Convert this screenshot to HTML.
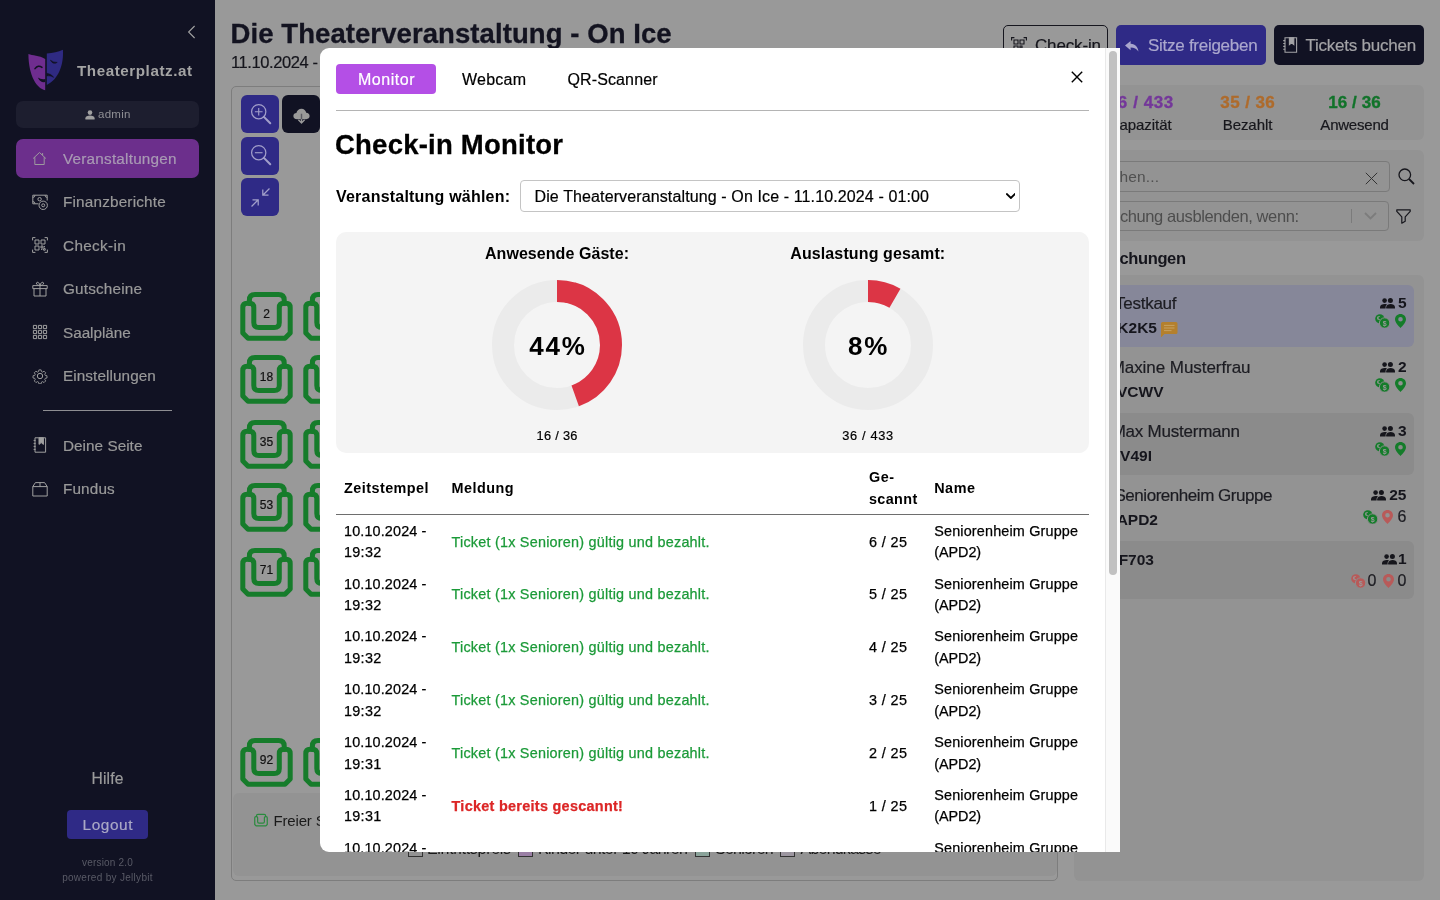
<!DOCTYPE html>
<html lang="de"><head>
<meta charset="utf-8">
<title>Theaterplatz.at</title>
<style>
*{box-sizing:border-box;margin:0;padding:0}
html,body{width:1440px;height:900px;overflow:hidden}
body{position:relative;background:#999999;font-family:"Liberation Sans",sans-serif;color:#111;font-size:16px}
.abs{position:absolute}
.nw{white-space:nowrap}
svg{display:block}
#sb,#main,#modal{will-change:transform}
/* ---------- sidebar ---------- */
#sb{position:absolute;left:0;top:0;width:215px;height:900px;background:#111223;color:#999}
#sb .nav{position:absolute;left:16px;width:183px;height:39px;border-radius:7px}
#sb .nav.act{background:#6c2f8c}
#sb .nav span{position:absolute;left:47px;top:-.4px;line-height:39px;font-size:15.3px;color:#999;white-space:nowrap;-webkit-text-stroke:.2px}
#sb .nav.act span{color:#a99ab4}
#sb .nav svg{position:absolute;left:16px;top:11px;width:16px;height:16px;stroke:#a0a0a0;fill:none;stroke-width:1}
/* ---------- main ---------- */
#main{position:absolute;left:0;top:0;width:1440px;height:900px}
.sn{left:240px;width:53px;text-align:center;font-size:12px;line-height:14px;color:#111;margin-top:1px;-webkit-text-stroke:.2px}
.st{top:92.9px;-webkit-text-stroke:.35px;font-size:17px;line-height:20px;font-weight:700;width:107px;text-align:center}
.sl{top:115.3px;-webkit-text-stroke:.2px;font-size:15px;line-height:20px;color:#17171c;width:107px;text-align:center}
.bi{left:1085px;width:329px;border-radius:6px}
.bn{font-size:17px;line-height:22px;color:#1c1c22;margin-top:1.6px;-webkit-text-stroke:.2px}
.bc{font-size:15.5px;line-height:20px;font-weight:700;color:#15151c;margin-top:1.4px}
.bq{font-size:15.5px;line-height:20px;font-weight:700;color:#15151c;margin-top:1.4px}
.br{font-size:16px;line-height:20px;color:#1c1c22;margin-top:1.2px;-webkit-text-stroke:.2px}
.btn{position:absolute;top:25px;height:40px;border-radius:5px;color:#a9a9b4;font-size:17px;line-height:40px;white-space:nowrap}
.box{position:absolute;background:#939393;border-radius:6px}
/* ---------- modal ---------- */
#modal{position:absolute;left:320px;top:48px;width:800px;height:804px;background:#fff;border-radius:9px 0 0 9px;overflow:hidden;color:#000}
.dt{top:194.5px;width:168px;text-align:center;font-size:16px;line-height:22px;font-weight:700;color:#000}
.dp{top:281.5px;width:168px;text-align:center;font-size:26px;line-height:32px;font-weight:700;color:#000}
.ds{top:379.2px;-webkit-text-stroke:.2px;width:168px;text-align:center;font-size:12.8px;line-height:18px;color:#000}
.th{font-size:14.4px;line-height:21.6px;font-weight:700;color:#000;margin-top:1.1px}
.td{font-size:14.4px;line-height:21.6px;color:#000;margin-top:1.1px;-webkit-text-stroke:.25px}
</style>
</head>
<body>

<!-- ================= SIDEBAR ================= -->
<div id="sb">
  <!-- collapse chevron -->
  <svg class="abs" style="left:186px;top:25px" width="12" height="14" viewBox="0 0 12 14"><path d="M8.6 1 L2.6 7 L8.6 13" fill="none" stroke="#a3a3a3" stroke-width="1.1"></path></svg>
  <!-- logo -->
  <svg class="abs" style="left:27px;top:49px" width="38" height="42" viewBox="0 0 38 42">
    <path d="M1.4 5.1 C5.5 6.8 12 6.2 18.2 10.1 L18.2 41.2 C10 40 1.5 27 1.4 5.1 Z" fill="#6f2d8f"></path>
    <path d="M19.8 4.5 C26 4.2 31 3 35.9 0.8 C37 16 31 31 19.8 35.9 Z" fill="#2f2a82"></path>
    <path d="M8 19.6 Q11.2 15.4 15 18.4" fill="none" stroke="#111223" stroke-width="1.5" stroke-linecap="round"></path>
    <path d="M10.8 28.4 Q13.4 34 18.2 33 L18.2 30 Q14 30.8 10.8 28.4 Z" fill="#111223"></path>
    <path d="M23.4 11.2 Q26 16 30.2 13.4 Q26.6 13.6 23.4 11.2 Z" fill="#111223" stroke="#111223" stroke-width=".6"></path>
    <path d="M19.8 24.2 Q24.4 24.6 26.8 28.4 Q23.6 26.4 19.8 27 Z" fill="#111223" stroke="#111223" stroke-width=".4"></path>
  </svg>
  <div class="abs nw" style="left: 77px; top: 59px; font-size: 15.2px; line-height: 22px; font-weight: 700; color: rgb(164, 164, 164); margin-top: 0.8px; letter-spacing: 0.56px;">Theaterplatz.at</div>
  <!-- admin chip -->
  <div class="abs" style="left:16px;top:101px;width:183px;height:27px;border-radius:7px;background:#1d1e2f"></div>
  <svg class="abs" style="left:85px;top:110px" width="10" height="10" viewBox="0 0 10 10"><circle cx="5" cy="2.6" r="2.3" fill="#a0a0a0"></circle><path d="M.4 9.6 V8.2 C.4 6.4 2.5 5.6 5 5.6 S9.6 6.4 9.6 8.2 V9.6 Z" fill="#a0a0a0"></path></svg>
  <div class="abs nw" style="left: 98px; top: 107px; font-size: 11.5px; line-height: 14px; color: rgb(143, 143, 148); letter-spacing: 0.29px;">admin</div>

  <!-- nav items -->
  <div class="nav act" style="top:139px">
    <svg viewBox="0 0 16 16" style="top:12px;left:16.3px;width:15px;height:15px"><path d="M1.2 8 L8 1.6 L14.8 8 M3 6.6 V14.4 H13 V6.6 M11.3 4.6 V2.2"></path></svg>
    <span style="letter-spacing: 0.21px;">Veranstaltungen</span></div>
  <div class="nav" style="top:182.5px">
    <svg viewBox="0 0 16 16"><path d="M6.5 9.8 H.8 V1.2 H15.2 V6.5 M.8 3.4 q2.2 0 2.2 -2.2 M15.2 3.4 q-2.2 0 -2.2 -2.2 M.8 7.6 q2.2 0 2.2 2.2"></path><circle cx="7.6" cy="5.2" r="1.7"></circle><circle cx="11.2" cy="11.3" r="4.2"></circle><circle cx="11.2" cy="11.3" r="1.5"></circle></svg>
    <span style="letter-spacing: 0.18px;">Finanzberichte</span></div>
  <div class="nav" style="top:226px">
    <svg viewBox="0 0 16 16"><path d="M.6 3.4 V.6 H3.4 M12.6 .6 H15.4 V3.4 M15.4 12.6 V15.4 H12.6 M3.4 15.4 H.6 V12.6 M3 3 H7 V7 H3 Z M9 3 H13 V7 H9 Z M3 9 H7 V13 H3 Z M9 9 H11 V11 H9 Z M11.6 11.6 H13.2 V13.2 H11.6 Z M9 12.4 H10.4 M12.4 9 V10.4"></path></svg>
    <span style="letter-spacing: 0.33px;">Check-in</span></div>
  <div class="nav" style="top:269.5px">
    <svg viewBox="0 0 16 16"><path d="M.8 4.6 H15.2 V7.6 H.8 Z M2 7.6 V15 H14 V7.6 M8 4.6 V15 M8 4.4 C6 4.4 4 3.6 4.4 2 C5 .4 7.4 1.4 8 4.4 C8.6 1.4 11 .4 11.6 2 C12 3.6 10 4.4 8 4.4"></path></svg>
    <span style="letter-spacing: 0.17px;">Gutscheine</span></div>
  <div class="nav" style="top:313px">
    <svg viewBox="0 0 16 16"><path d="M1.4 1.4h3.2v3.2h-3.2z M6.4 1.4h3.2v3.2h-3.2z M11.4 1.4h3.2v3.2h-3.2z M1.4 6.4h3.2v3.2h-3.2z M6.4 6.4h3.2v3.2h-3.2z M11.4 6.4h3.2v3.2h-3.2z M1.4 11.4h3.2v3.2h-3.2z M6.4 11.4h3.2v3.2h-3.2z M11.4 11.4h3.2v3.2h-3.2z"></path></svg>
    <span style="letter-spacing: -0.04px;">Saalpläne</span></div>
  <div class="nav" style="top:356.5px">
    <svg viewBox="0 0 16 16"><circle cx="8" cy="8" r="2.7"></circle><path d="M6.7 .9 h2.6 l.4 2 l1.3 .6 l1.7 -1.1 l1.9 1.9 l-1.1 1.7 l.6 1.3 l2 .4 v2.6 l-2 .4 l-.6 1.3 l1.1 1.7 l-1.9 1.9 l-1.7 -1.1 l-1.3 .6 l-.4 2 h-2.6 l-.4 -2 l-1.3 -.6 l-1.7 1.1 l-1.9 -1.9 l1.1 -1.7 l-.6 -1.3 l-2 -.4 v-2.6 l2 -.4 l.6 -1.3 l-1.1 -1.7 l1.9 -1.9 l1.7 1.1 l1.3 -.6 z" transform="translate(1.1 1.1) scale(.863)"></path></svg>
    <span style="letter-spacing: 0.08px;">Einstellungen</span></div>
  <div class="abs" style="left:43px;top:410px;width:129px;height:1px;background:#8e8e92"></div>
  <div class="nav" style="top:426px">
    <svg viewBox="0 0 16 16"><path d="M3 .8 H13.6 V15.2 H3 Z M1.6 3.4 H3.6 M1.6 6.4 H3.6 M1.6 9.4 H3.6 M1.6 12.4 H3.6"></path><path d="M7 .8 V7.4 L9.2 5.6 L11.4 7.4 V.8 Z" fill="#a0a0a0"></path></svg>
    <span style="letter-spacing: 0.03px;">Deine Seite</span></div>
  <div class="nav" style="top:469.5px">
    <svg viewBox="0 0 16 16"><path d="M.8 5.6 L3.4 1.6 H12.6 L15.2 5.6 V15 H.8 Z M.8 5.6 H15.2 M8 1.6 V5.6"></path></svg>
    <span style="letter-spacing: 0.13px;">Fundus</span></div>

  <div class="abs nw" style="left: 0px; width: 215px; top: 767.5px; text-align: center; font-size: 15.6px; line-height: 22px; color: rgb(155, 155, 155); -webkit-text-stroke: 0.2px; letter-spacing: 0.2px; padding-left: 0.2px;">Hilfe</div>
  <div class="abs nw" style="left: 67px; top: 810px; width: 81px; height: 29px; border-radius: 4px; background: rgb(47, 42, 134); text-align: center; font-size: 15.4px; line-height: 30.4px; color: rgb(170, 168, 198); -webkit-text-stroke: 0.2px; letter-spacing: 0.58px; padding-left: 0.58px;">Logout</div>
  <div class="abs nw" style="left:0;width:215px;top:856.5px;text-align:center;font-size:10px;line-height:12px;color:#595a66;letter-spacing:.2px">version 2.0</div>
  <div class="abs nw" style="left:0;width:215px;top:871.5px;text-align:center;font-size:10px;line-height:12px;color:#595a66;letter-spacing:.3px">powered by Jellybit</div>
</div>

<!-- ================= MAIN ================= -->
<div id="main">


<!-- title -->
<div class="abs nw" style="left: 230.5px; top: 16.8px; font-size: 27.5px; line-height: 34px; font-weight: 700; color: rgb(19, 19, 32); -webkit-text-stroke: 0.3px; letter-spacing: 0.08px;">Die Theaterveranstaltung - On Ice</div>
<div class="abs nw" style="left: 231px; top: 52.1px; font-size: 16.5px; line-height: 20px; color: rgb(21, 21, 28); -webkit-text-stroke: 0.2px; letter-spacing: -0.4px;">11.10.2024 - 01:00 Uhr</div>

<!-- seat-map container -->
<div class="abs" style="left:231px;top:85.5px;width:827px;height:795px;border:1px solid #7d7d7d;border-radius:5px"></div>
<!-- toolbar -->
<div class="abs" style="left:241px;top:95px;width:38px;height:38px;border-radius:6px;background:#2f2a86"></div>
<svg class="abs" style="left:249.5px;top:103px" width="22.5" height="22.5" viewBox="0 0 24 24" fill="none" stroke="#a29fca" stroke-width="1.3"><circle cx="9.3" cy="9.3" r="7.6"></circle><path d="M9.3 5.2 V13.4 M5.2 9.3 H13.4" stroke-width="1.2"></path><path d="M14.8 14.8 L21.6 21.6" stroke-width="2.2" stroke-linecap="round"></path></svg>
<div class="abs" style="left:282px;top:95px;width:38px;height:38px;border-radius:6px;background:#111223"></div>
<svg class="abs" style="left:292.5px;top:107.5px" width="17" height="17" viewBox="0 0 18 18"><path d="M4.4 11.8 C1.6 11.8 .4 10.2 .4 8.4 C.4 6.6 1.8 5.2 3.6 5.2 C4.2 2.6 6.2 .8 9 .8 C11.6 .8 13.6 2.6 14 5 C16.2 5.2 17.6 6.6 17.6 8.6 C17.6 10.4 16.2 11.8 14 11.8 Z" fill="#999"></path><path d="M9 6 V15.4 M5.6 12.4 L9 15.8 L12.4 12.4" fill="none" stroke="#5a5a62" stroke-width="1.5"></path><path d="M9 12 V15.4 M5.8 12.6 L9 15.8 L12.2 12.6" fill="none" stroke="#999" stroke-width="1.3"></path></svg>
<div class="abs" style="left:241px;top:136.5px;width:38px;height:38px;border-radius:6px;background:#2f2a86"></div>
<svg class="abs" style="left:249.5px;top:144.3px" width="22.5" height="22.5" viewBox="0 0 24 24" fill="none" stroke="#a29fca" stroke-width="1.3"><circle cx="9.3" cy="9.3" r="7.6"></circle><path d="M5.2 9.3 H13.4" stroke-width="1.2"></path><path d="M14.8 14.8 L21.6 21.6" stroke-width="2.2" stroke-linecap="round"></path></svg>
<div class="abs" style="left:241px;top:178px;width:38px;height:38px;border-radius:6px;background:#2f2a86"></div>
<svg class="abs" style="left:249.5px;top:186.5px" width="21" height="21" viewBox="0 0 22 22" fill="none" stroke="#a29fca" stroke-width="1.3"><path d="M20.4 1.6 L13.4 8.6 M13.4 2.6 V8.6 H19.4 M1.6 20.4 L8.6 13.4 M2.6 13.4 H8.6 V19.4"></path></svg>

<!-- seats -->
<svg class="abs" style="left:240px;top:291px" width="53" height="50" viewBox="0 0 53 50">
      <g fill="none" stroke="#167c2b" stroke-width="5" stroke-linejoin="round" stroke-linecap="round">
        <path d="M9.4 12.6 V9 Q9.4 3.5 15 3.5 H38.5 Q44.2 3.5 44.2 9 V12.6"></path>
        <path d="M2.8 42 V16.5 Q2.8 12.2 7 12.2 H9.6 Q13.8 12.2 13.8 16.5 V31.5 Q13.8 36.6 19 36.6 H34.2 Q39.3 36.6 39.3 31.5 V16.5 Q39.3 12.2 43.5 12.2 H46 Q50.2 12.2 50.2 16.5 V42 L45 47.3 H8 Z"></path>
      </g>
    </svg>
<svg class="abs" style="left:303px;top:291px" width="53" height="50" viewBox="0 0 53 50">
      <g fill="none" stroke="#167c2b" stroke-width="5" stroke-linejoin="round" stroke-linecap="round">
        <path d="M9.4 12.6 V9 Q9.4 3.5 15 3.5 H38.5 Q44.2 3.5 44.2 9 V12.6"></path>
        <path d="M2.8 42 V16.5 Q2.8 12.2 7 12.2 H9.6 Q13.8 12.2 13.8 16.5 V31.5 Q13.8 36.6 19 36.6 H34.2 Q39.3 36.6 39.3 31.5 V16.5 Q39.3 12.2 43.5 12.2 H46 Q50.2 12.2 50.2 16.5 V42 L45 47.3 H8 Z"></path>
      </g>
    </svg>
<svg class="abs" style="left:240px;top:354px" width="53" height="50" viewBox="0 0 53 50">
      <g fill="none" stroke="#167c2b" stroke-width="5" stroke-linejoin="round" stroke-linecap="round">
        <path d="M9.4 12.6 V9 Q9.4 3.5 15 3.5 H38.5 Q44.2 3.5 44.2 9 V12.6"></path>
        <path d="M2.8 42 V16.5 Q2.8 12.2 7 12.2 H9.6 Q13.8 12.2 13.8 16.5 V31.5 Q13.8 36.6 19 36.6 H34.2 Q39.3 36.6 39.3 31.5 V16.5 Q39.3 12.2 43.5 12.2 H46 Q50.2 12.2 50.2 16.5 V42 L45 47.3 H8 Z"></path>
      </g>
    </svg>
<svg class="abs" style="left:303px;top:354px" width="53" height="50" viewBox="0 0 53 50">
      <g fill="none" stroke="#167c2b" stroke-width="5" stroke-linejoin="round" stroke-linecap="round">
        <path d="M9.4 12.6 V9 Q9.4 3.5 15 3.5 H38.5 Q44.2 3.5 44.2 9 V12.6"></path>
        <path d="M2.8 42 V16.5 Q2.8 12.2 7 12.2 H9.6 Q13.8 12.2 13.8 16.5 V31.5 Q13.8 36.6 19 36.6 H34.2 Q39.3 36.6 39.3 31.5 V16.5 Q39.3 12.2 43.5 12.2 H46 Q50.2 12.2 50.2 16.5 V42 L45 47.3 H8 Z"></path>
      </g>
    </svg>
<svg class="abs" style="left:240px;top:418.5px" width="53" height="50" viewBox="0 0 53 50">
      <g fill="none" stroke="#167c2b" stroke-width="5" stroke-linejoin="round" stroke-linecap="round">
        <path d="M9.4 12.6 V9 Q9.4 3.5 15 3.5 H38.5 Q44.2 3.5 44.2 9 V12.6"></path>
        <path d="M2.8 42 V16.5 Q2.8 12.2 7 12.2 H9.6 Q13.8 12.2 13.8 16.5 V31.5 Q13.8 36.6 19 36.6 H34.2 Q39.3 36.6 39.3 31.5 V16.5 Q39.3 12.2 43.5 12.2 H46 Q50.2 12.2 50.2 16.5 V42 L45 47.3 H8 Z"></path>
      </g>
    </svg>
<svg class="abs" style="left:303px;top:418.5px" width="53" height="50" viewBox="0 0 53 50">
      <g fill="none" stroke="#167c2b" stroke-width="5" stroke-linejoin="round" stroke-linecap="round">
        <path d="M9.4 12.6 V9 Q9.4 3.5 15 3.5 H38.5 Q44.2 3.5 44.2 9 V12.6"></path>
        <path d="M2.8 42 V16.5 Q2.8 12.2 7 12.2 H9.6 Q13.8 12.2 13.8 16.5 V31.5 Q13.8 36.6 19 36.6 H34.2 Q39.3 36.6 39.3 31.5 V16.5 Q39.3 12.2 43.5 12.2 H46 Q50.2 12.2 50.2 16.5 V42 L45 47.3 H8 Z"></path>
      </g>
    </svg>
<svg class="abs" style="left:240px;top:482px" width="53" height="50" viewBox="0 0 53 50">
      <g fill="none" stroke="#167c2b" stroke-width="5" stroke-linejoin="round" stroke-linecap="round">
        <path d="M9.4 12.6 V9 Q9.4 3.5 15 3.5 H38.5 Q44.2 3.5 44.2 9 V12.6"></path>
        <path d="M2.8 42 V16.5 Q2.8 12.2 7 12.2 H9.6 Q13.8 12.2 13.8 16.5 V31.5 Q13.8 36.6 19 36.6 H34.2 Q39.3 36.6 39.3 31.5 V16.5 Q39.3 12.2 43.5 12.2 H46 Q50.2 12.2 50.2 16.5 V42 L45 47.3 H8 Z"></path>
      </g>
    </svg>
<svg class="abs" style="left:303px;top:482px" width="53" height="50" viewBox="0 0 53 50">
      <g fill="none" stroke="#167c2b" stroke-width="5" stroke-linejoin="round" stroke-linecap="round">
        <path d="M9.4 12.6 V9 Q9.4 3.5 15 3.5 H38.5 Q44.2 3.5 44.2 9 V12.6"></path>
        <path d="M2.8 42 V16.5 Q2.8 12.2 7 12.2 H9.6 Q13.8 12.2 13.8 16.5 V31.5 Q13.8 36.6 19 36.6 H34.2 Q39.3 36.6 39.3 31.5 V16.5 Q39.3 12.2 43.5 12.2 H46 Q50.2 12.2 50.2 16.5 V42 L45 47.3 H8 Z"></path>
      </g>
    </svg>
<svg class="abs" style="left:240px;top:546.5px" width="53" height="50" viewBox="0 0 53 50">
      <g fill="none" stroke="#167c2b" stroke-width="5" stroke-linejoin="round" stroke-linecap="round">
        <path d="M9.4 12.6 V9 Q9.4 3.5 15 3.5 H38.5 Q44.2 3.5 44.2 9 V12.6"></path>
        <path d="M2.8 42 V16.5 Q2.8 12.2 7 12.2 H9.6 Q13.8 12.2 13.8 16.5 V31.5 Q13.8 36.6 19 36.6 H34.2 Q39.3 36.6 39.3 31.5 V16.5 Q39.3 12.2 43.5 12.2 H46 Q50.2 12.2 50.2 16.5 V42 L45 47.3 H8 Z"></path>
      </g>
    </svg>
<svg class="abs" style="left:303px;top:546.5px" width="53" height="50" viewBox="0 0 53 50">
      <g fill="none" stroke="#167c2b" stroke-width="5" stroke-linejoin="round" stroke-linecap="round">
        <path d="M9.4 12.6 V9 Q9.4 3.5 15 3.5 H38.5 Q44.2 3.5 44.2 9 V12.6"></path>
        <path d="M2.8 42 V16.5 Q2.8 12.2 7 12.2 H9.6 Q13.8 12.2 13.8 16.5 V31.5 Q13.8 36.6 19 36.6 H34.2 Q39.3 36.6 39.3 31.5 V16.5 Q39.3 12.2 43.5 12.2 H46 Q50.2 12.2 50.2 16.5 V42 L45 47.3 H8 Z"></path>
      </g>
    </svg>
<svg class="abs" style="left:240px;top:737px" width="53" height="50" viewBox="0 0 53 50">
      <g fill="none" stroke="#167c2b" stroke-width="5" stroke-linejoin="round" stroke-linecap="round">
        <path d="M9.4 12.6 V9 Q9.4 3.5 15 3.5 H38.5 Q44.2 3.5 44.2 9 V12.6"></path>
        <path d="M2.8 42 V16.5 Q2.8 12.2 7 12.2 H9.6 Q13.8 12.2 13.8 16.5 V31.5 Q13.8 36.6 19 36.6 H34.2 Q39.3 36.6 39.3 31.5 V16.5 Q39.3 12.2 43.5 12.2 H46 Q50.2 12.2 50.2 16.5 V42 L45 47.3 H8 Z"></path>
      </g>
    </svg>
<svg class="abs" style="left:303px;top:737px" width="53" height="50" viewBox="0 0 53 50">
      <g fill="none" stroke="#167c2b" stroke-width="5" stroke-linejoin="round" stroke-linecap="round">
        <path d="M9.4 12.6 V9 Q9.4 3.5 15 3.5 H38.5 Q44.2 3.5 44.2 9 V12.6"></path>
        <path d="M2.8 42 V16.5 Q2.8 12.2 7 12.2 H9.6 Q13.8 12.2 13.8 16.5 V31.5 Q13.8 36.6 19 36.6 H34.2 Q39.3 36.6 39.3 31.5 V16.5 Q39.3 12.2 43.5 12.2 H46 Q50.2 12.2 50.2 16.5 V42 L45 47.3 H8 Z"></path>
      </g>
    </svg>
<div class="abs nw sn" style="top:306px">2</div>
<div class="abs nw sn" style="top:369px">18</div>
<div class="abs nw sn" style="top:433.5px">35</div>
<div class="abs nw sn" style="top:497px">53</div>
<div class="abs nw sn" style="top:561.5px">71</div>
<div class="abs nw sn" style="top:752px">92</div>

<!-- legend -->
<div class="box" style="left:232.5px;top:793px;width:824px;height:83px;background:#939393"></div>
<svg class="abs" style="left:254px;top:813px" width="14" height="14" viewBox="0 0 53 50"><g fill="none" stroke="#2a8a3e" stroke-width="4.5" stroke-linejoin="round"><path d="M9.4 12.6 V9 Q9.4 3.5 15 3.5 H38.5 Q44.2 3.5 44.2 9 V12.6"></path><path d="M2.8 42 V16.5 Q2.8 12.2 7 12.2 H9.6 Q13.8 12.2 13.8 16.5 V31.5 Q13.8 36.6 19 36.6 H34.2 Q39.3 36.6 39.3 31.5 V16.5 Q39.3 12.2 43.5 12.2 H46 Q50.2 12.2 50.2 16.5 V42 L45 47.3 H8 Z"></path></g></svg>
<div class="abs nw" style="left: 273.5px; top: 811px; font-size: 15px; line-height: 20px; color: rgb(26, 26, 26); letter-spacing: -0.17px;">Freier Sitzplatz</div>
<!-- legend row 2 (peeks out under the modal) -->
<div class="abs" style="left:408px;top:842px;width:15px;height:15px;border:1px solid #333"></div>
<div class="abs nw" style="left: 427px; top: 839px; font-size: 16px; line-height: 20px; color: rgb(26, 26, 26); letter-spacing: -0.31px;">Eintrittspreis</div>
<div class="abs" style="left:518px;top:842px;width:15px;height:15px;border:1px solid #333;background:#9a7fa5"></div>
<div class="abs nw" style="left: 538px; top: 839px; font-size: 16px; line-height: 20px; color: rgb(26, 26, 26); letter-spacing: -0.61px;">Kinder unter 10 Jahren</div>
<div class="abs" style="left:695px;top:842px;width:15px;height:15px;border:1px solid #333;background:#8aa39a"></div>
<div class="abs nw" style="left: 715px; top: 839px; font-size: 16px; line-height: 20px; color: rgb(26, 26, 26); letter-spacing: -0.76px;">Senioren</div>
<div class="abs" style="left:780px;top:842px;width:15px;height:15px;border:1px solid #333;background:#9c96a0"></div>
<div class="abs nw" style="left: 800.5px; top: 839px; font-size: 16px; line-height: 20px; color: rgb(26, 26, 26); letter-spacing: -0.78px;">Abendkasse</div>

<!-- header buttons -->
<div class="abs" style="left:1003px;top:25px;width:105px;height:40px;border:1px solid #16161e;border-radius:5px"></div>
<svg class="abs" style="left:1011px;top:37.3px" width="16" height="16" viewBox="0 0 16 16" fill="none" stroke="#15151c" stroke-width="1.1"><path d="M.6 3.4 V.6 H3.4 M12.6 .6 H15.4 V3.4 M15.4 12.6 V15.4 H12.6 M3.4 15.4 H.6 V12.6 M3 3 H7 V7 H3 Z M9 3 H13 V7 H9 Z M3 9 H7 V13 H3 Z M9 9 H11 V11 H9 Z M11.6 11.6 H13.2 V13.2 H11.6 Z"></path></svg>
<div class="abs nw" style="left: 1035px; top: 26px; font-size: 17px; line-height: 40px; color: rgb(21, 21, 28); -webkit-text-stroke: 0.2px; letter-spacing: -0.16px;">Check-in</div>

<div class="btn" style="left:1116px;width:150px;background:#2f2a86"></div>
<svg class="abs" style="left:1124.5px;top:40.5px" width="14" height="11" viewBox="0 0 14 11"><path d="M5.6 0 L0 4.6 L5.6 9.2 V6.4 C9.2 6.4 11.6 7.6 13.4 10.6 C13.2 6.6 10.6 3.2 5.6 2.8 Z" fill="#a9a6cd"></path></svg>
<div class="abs nw" style="left: 1148px; top: 26px; font-size: 17px; line-height: 40px; color: rgb(170, 167, 205); -webkit-text-stroke: 0.2px; letter-spacing: -0.27px;">Sitze freigeben</div>

<div class="btn" style="left:1274px;width:150px;background:#111223"></div>
<svg class="abs" style="left:1281.5px;top:37px" width="16" height="16" viewBox="0 0 16 16" fill="none" stroke="#a3a3a6" stroke-width="1.1"><path d="M3 .8 H14.6 V15.2 H3 Z M1.2 3.6 H3.6 M1.2 6.5 H3.6 M1.2 9.4 H3.6 M1.2 12.3 H3.6"></path><path d="M7.4 .8 V7.6 L9.6 5.8 L11.8 7.6 V.8 Z" fill="#a3a3a6"></path></svg>
<div class="abs nw" style="left: 1305.5px; top: 26px; font-size: 17px; line-height: 40px; color: rgb(163, 163, 166); -webkit-text-stroke: 0.2px; letter-spacing: -0.24px;">Tickets buchen</div>

<!-- stats -->
<div class="box" style="left:1074px;top:85px;width:350px;height:54.5px"></div>
<div class="abs nw st" style="left: 1087px; color: rgb(116, 55, 154); letter-spacing: 0.54px; padding-left: 0.54px;">36 / 433</div>
<div class="abs nw sl" style="left: 1087px; letter-spacing: -0.05px;">Kapazität</div>
<div class="abs nw st" style="left: 1194px; color: rgb(174, 107, 44); letter-spacing: 0.4px; padding-left: 0.4px;">35 / 36</div>
<div class="abs nw sl" style="left: 1194px; letter-spacing: -0.07px;">Bezahlt</div>
<div class="abs nw st" style="left: 1301px; color: rgb(17, 115, 42); letter-spacing: 0.08px; padding-left: 0.08px;">16 / 36</div>
<div class="abs nw sl" style="left: 1301px; letter-spacing: -0.22px;">Anwesend</div>

<!-- search box -->
<div class="box" style="left:1074px;top:150px;width:350px;height:91px"></div>
<div class="abs" style="left:1085px;top:160.5px;width:305px;height:31px;border:1px solid #7a7a7a;border-radius:4px"></div>
<div class="abs nw" style="right: 281px; top: 166px; font-size: 15.5px; line-height: 22px; color: rgb(80, 80, 80); letter-spacing: 0.16px; margin-right: -0.16px;">Suchen...</div>
<svg class="abs" style="left:1364.5px;top:171.5px" width="13" height="13" viewBox="0 0 13 13"><path d="M.8 .8 L12.2 12.2 M12.2 .8 L.8 12.2" stroke="#333" stroke-width="1" fill="none"></path></svg>
<svg class="abs" style="left:1397.5px;top:167.5px" width="17" height="17" viewBox="0 0 17 17" fill="none" stroke="#16161c" stroke-width="1.3"><circle cx="6.8" cy="6.8" r="5.8"></circle><path d="M11 11 L16 16" stroke-width="1.8"></path></svg>
<div class="abs" style="left:1085px;top:200.5px;width:304px;height:30px;border:1px solid #7a7a7a;border-radius:4px"></div>
<div class="abs nw" style="right: 141px; top: 204.5px; font-size: 16.5px; line-height: 22px; color: rgb(77, 77, 77); letter-spacing: -0.41px; margin-right: 0.41px;">Buchung ausblenden, wenn:</div>
<div class="abs" style="left:1351px;top:208.5px;width:1px;height:14px;background:#7b7b7b"></div>
<svg class="abs" style="left:1363.5px;top:212px" width="13" height="8" viewBox="0 0 13 8"><path d="M1 1 L6.5 6.4 L12 1" fill="none" stroke="#7c7c7c" stroke-width="1.8"></path></svg>
<svg class="abs" style="left:1395.5px;top:208.5px" width="15" height="15" viewBox="0 0 15 15"><path d="M.8 .8 H14.2 V2.4 L9.2 7.8 V12.2 L5.8 14.2 V7.8 L.8 2.4 Z" fill="none" stroke="#16161c" stroke-width="1.2" stroke-linejoin="round"></path></svg>

<!-- bookings -->
<div class="abs nw" style="right: 254px; top: 247px; font-size: 16.5px; line-height: 22px; font-weight: 700; color: rgb(21, 21, 28); letter-spacing: -0.38px; margin-right: 0.38px;">Buchungen</div>
<div class="box" style="left:1074px;top:275px;width:350px;height:606px"></div>

<div class="abs bi" style="top:284.5px;height:62px;background:#868799"></div>
<div class="abs nw bn" style="right: 263.5px; top: 291.5px; letter-spacing: -0.27px; margin-right: 0.27px;">Testkauf</div>
<div class="abs nw bc" style="right:283px;top:317px">K2K5</div>
<svg class="abs" style="left:1161px;top:321.5px" width="16.5" height="15.5" viewBox="0 0 16.5 15.5"><path d="M1.6 0 H14.9 Q16.5 0 16.5 1.6 V10.4 Q16.5 12 14.9 12 H3.4 L0 15.5 V1.6 Q0 0 1.6 0 Z" fill="#b4802d"></path><path d="M3 3.4 H13.5 M3 6 H13.5 M3 8.6 H10.5" stroke="#c7a162" stroke-width="1" fill="none"></path></svg>
<svg class="abs" style="left:1379.5px;top:298px" width="15" height="11" fill="#16161c" viewBox="0 0 15 11">
      <circle cx="4.6" cy="2.6" r="2.3"></circle><circle cx="10.4" cy="2.5" r="2.5"></circle>
      <path d="M0 10.6 V9.2 C0 7 2.4 6 4.8 6 C5.6 6 6.3 6.1 7 6.4 C5.9 7.2 5.6 8.2 5.6 9.3 V10.6 Z"></path>
      <path d="M6.2 10.6 V9.2 C6.2 6.9 8.6 6 10.6 6 S15 6.9 15 9.2 V10.6 Z"></path>
    </svg>
<div class="abs nw bq" style="right:33.5px;top:292px">5</div>
<svg class="abs" style="left:1374.5px;top:314px" width="15" height="14" fill="#147c2a" viewBox="0 0 15 14">
      <circle cx="4.8" cy="4.8" r="4.6"></circle>
      <circle cx="9.6" cy="9" r="5.2" stroke="#8d8d8d" stroke-width="1"></circle>
      <text x="9.6" y="11.6" font-family="Liberation Sans" font-size="7" font-weight="700" text-anchor="middle" fill="#999" stroke="none">$</text>
      <text x="3.6" y="6.2" font-family="Liberation Sans" font-size="5.5" font-weight="700" text-anchor="middle" fill="#999" stroke="none">€</text>
    </svg>
<svg class="abs" style="left:1394.5px;top:314px" width="11" height="14" fill="#147c2a" viewBox="0 0 11 14">
      <path fill-rule="evenodd" d="M5.5 0 C2.4 0 0 2.4 0 5.3 C0 9 5.5 14 5.5 14 S11 9 11 5.3 C11 2.4 8.6 0 5.5 0 Z M5.5 3 A2.3 2.3 0 1 0 5.5 7.6 A2.3 2.3 0 1 0 5.5 3 Z"></path>
    </svg>

<div class="abs nw bn" style="right: 189.5px; top: 355.5px; letter-spacing: -0.06px; margin-right: 0.06px;">Maxine Musterfrau</div>
<div class="abs nw bc" style="right:276.5px;top:381px">VCWV</div>
<svg class="abs" style="left:1379.5px;top:362px" width="15" height="11" fill="#16161c" viewBox="0 0 15 11">
      <circle cx="4.6" cy="2.6" r="2.3"></circle><circle cx="10.4" cy="2.5" r="2.5"></circle>
      <path d="M0 10.6 V9.2 C0 7 2.4 6 4.8 6 C5.6 6 6.3 6.1 7 6.4 C5.9 7.2 5.6 8.2 5.6 9.3 V10.6 Z"></path>
      <path d="M6.2 10.6 V9.2 C6.2 6.9 8.6 6 10.6 6 S15 6.9 15 9.2 V10.6 Z"></path>
    </svg>
<div class="abs nw bq" style="right:33.5px;top:356px">2</div>
<svg class="abs" style="left:1374.5px;top:378px" width="15" height="14" fill="#147c2a" viewBox="0 0 15 14">
      <circle cx="4.8" cy="4.8" r="4.6"></circle>
      <circle cx="9.6" cy="9" r="5.2" stroke="#8d8d8d" stroke-width="1"></circle>
      <text x="9.6" y="11.6" font-family="Liberation Sans" font-size="7" font-weight="700" text-anchor="middle" fill="#999" stroke="none">$</text>
      <text x="3.6" y="6.2" font-family="Liberation Sans" font-size="5.5" font-weight="700" text-anchor="middle" fill="#999" stroke="none">€</text>
    </svg>
<svg class="abs" style="left:1394.5px;top:378px" width="11" height="14" fill="#147c2a" viewBox="0 0 11 14">
      <path fill-rule="evenodd" d="M5.5 0 C2.4 0 0 2.4 0 5.3 C0 9 5.5 14 5.5 14 S11 9 11 5.3 C11 2.4 8.6 0 5.5 0 Z M5.5 3 A2.3 2.3 0 1 0 5.5 7.6 A2.3 2.3 0 1 0 5.5 3 Z"></path>
    </svg>

<div class="abs bi" style="top:412.5px;height:62px;background:#8b8b8b"></div>
<div class="abs nw bn" style="right: 200px; top: 419.5px; letter-spacing: -0.23px; margin-right: 0.23px;">Max Mustermann</div>
<div class="abs nw bc" style="right:288px;top:445px">V49I</div>
<svg class="abs" style="left:1379.5px;top:426px" width="15" height="11" fill="#16161c" viewBox="0 0 15 11">
      <circle cx="4.6" cy="2.6" r="2.3"></circle><circle cx="10.4" cy="2.5" r="2.5"></circle>
      <path d="M0 10.6 V9.2 C0 7 2.4 6 4.8 6 C5.6 6 6.3 6.1 7 6.4 C5.9 7.2 5.6 8.2 5.6 9.3 V10.6 Z"></path>
      <path d="M6.2 10.6 V9.2 C6.2 6.9 8.6 6 10.6 6 S15 6.9 15 9.2 V10.6 Z"></path>
    </svg>
<div class="abs nw bq" style="right:33.5px;top:420px">3</div>
<svg class="abs" style="left:1374.5px;top:442px" width="15" height="14" fill="#147c2a" viewBox="0 0 15 14">
      <circle cx="4.8" cy="4.8" r="4.6"></circle>
      <circle cx="9.6" cy="9" r="5.2" stroke="#8d8d8d" stroke-width="1"></circle>
      <text x="9.6" y="11.6" font-family="Liberation Sans" font-size="7" font-weight="700" text-anchor="middle" fill="#999" stroke="none">$</text>
      <text x="3.6" y="6.2" font-family="Liberation Sans" font-size="5.5" font-weight="700" text-anchor="middle" fill="#999" stroke="none">€</text>
    </svg>
<svg class="abs" style="left:1394.5px;top:442px" width="11" height="14" fill="#147c2a" viewBox="0 0 11 14">
      <path fill-rule="evenodd" d="M5.5 0 C2.4 0 0 2.4 0 5.3 C0 9 5.5 14 5.5 14 S11 9 11 5.3 C11 2.4 8.6 0 5.5 0 Z M5.5 3 A2.3 2.3 0 1 0 5.5 7.6 A2.3 2.3 0 1 0 5.5 3 Z"></path>
    </svg>

<div class="abs nw bn" style="right: 167.5px; top: 483.5px; letter-spacing: -0.46px; margin-right: 0.46px;">Seniorenheim Gruppe</div>
<div class="abs nw bc" style="right:282px;top:509px">APD2</div>
<svg class="abs" style="left:1371px;top:490px" width="15" height="11" fill="#16161c" viewBox="0 0 15 11">
      <circle cx="4.6" cy="2.6" r="2.3"></circle><circle cx="10.4" cy="2.5" r="2.5"></circle>
      <path d="M0 10.6 V9.2 C0 7 2.4 6 4.8 6 C5.6 6 6.3 6.1 7 6.4 C5.9 7.2 5.6 8.2 5.6 9.3 V10.6 Z"></path>
      <path d="M6.2 10.6 V9.2 C6.2 6.9 8.6 6 10.6 6 S15 6.9 15 9.2 V10.6 Z"></path>
    </svg>
<div class="abs nw bq" style="right:33.5px;top:484px">25</div>
<svg class="abs" style="left:1362.5px;top:510px" width="15" height="14" fill="#147c2a" viewBox="0 0 15 14">
      <circle cx="4.8" cy="4.8" r="4.6"></circle>
      <circle cx="9.6" cy="9" r="5.2" stroke="#8d8d8d" stroke-width="1"></circle>
      <text x="9.6" y="11.6" font-family="Liberation Sans" font-size="7" font-weight="700" text-anchor="middle" fill="#999" stroke="none">$</text>
      <text x="3.6" y="6.2" font-family="Liberation Sans" font-size="5.5" font-weight="700" text-anchor="middle" fill="#999" stroke="none">€</text>
    </svg>
<svg class="abs" style="left:1382px;top:510px" width="11" height="14" fill="#b85a59" viewBox="0 0 11 14">
      <path fill-rule="evenodd" d="M5.5 0 C2.4 0 0 2.4 0 5.3 C0 9 5.5 14 5.5 14 S11 9 11 5.3 C11 2.4 8.6 0 5.5 0 Z M5.5 3 A2.3 2.3 0 1 0 5.5 7.6 A2.3 2.3 0 1 0 5.5 3 Z"></path>
    </svg>
<div class="abs nw br" style="right:33.5px;top:506px">6</div>

<div class="abs bi" style="top:540.5px;height:58px;background:#8b8b8b"></div>
<div class="abs nw bc" style="right:286px;top:549px">F703</div>
<svg class="abs" style="left:1382px;top:554px" width="15" height="11" fill="#16161c" viewBox="0 0 15 11">
      <circle cx="4.6" cy="2.6" r="2.3"></circle><circle cx="10.4" cy="2.5" r="2.5"></circle>
      <path d="M0 10.6 V9.2 C0 7 2.4 6 4.8 6 C5.6 6 6.3 6.1 7 6.4 C5.9 7.2 5.6 8.2 5.6 9.3 V10.6 Z"></path>
      <path d="M6.2 10.6 V9.2 C6.2 6.9 8.6 6 10.6 6 S15 6.9 15 9.2 V10.6 Z"></path>
    </svg>
<div class="abs nw bq" style="right:33.5px;top:548px">1</div>
<svg class="abs" style="left:1351px;top:574px" width="15" height="14" fill="#b85a59" viewBox="0 0 15 14">
      <circle cx="4.8" cy="4.8" r="4.6"></circle>
      <circle cx="9.6" cy="9" r="5.2" stroke="#8d8d8d" stroke-width="1"></circle>
      <text x="9.6" y="11.6" font-family="Liberation Sans" font-size="7" font-weight="700" text-anchor="middle" fill="#999" stroke="none">$</text>
      <text x="3.6" y="6.2" font-family="Liberation Sans" font-size="5.5" font-weight="700" text-anchor="middle" fill="#999" stroke="none">€</text>
    </svg>
<div class="abs nw br" style="right:63.5px;top:570px">0</div>
<svg class="abs" style="left:1382.5px;top:574px" width="11" height="14" fill="#b85a59" viewBox="0 0 11 14">
      <path fill-rule="evenodd" d="M5.5 0 C2.4 0 0 2.4 0 5.3 C0 9 5.5 14 5.5 14 S11 9 11 5.3 C11 2.4 8.6 0 5.5 0 Z M5.5 3 A2.3 2.3 0 1 0 5.5 7.6 A2.3 2.3 0 1 0 5.5 3 Z"></path>
    </svg>
<div class="abs nw br" style="right:33.5px;top:570px">0</div>

</div>

<!-- ================= MODAL ================= -->
<div id="modal">
<!-- tabs -->
<div class="abs" style="left:16px;top:16px;width:100px;height:30px;border-radius:4px;background:#b44fe6"></div>
<div class="abs nw" style="left: 38px; top: 17.2px; font-size: 16px; line-height: 30px; color: rgb(255, 255, 255); -webkit-text-stroke: 0.2px; letter-spacing: 0.54px;">Monitor</div>
<div class="abs nw" style="left: 142px; top: 17.2px; font-size: 16px; line-height: 30px; color: rgb(0, 0, 0); -webkit-text-stroke: 0.2px; letter-spacing: 0.23px;">Webcam</div>
<div class="abs nw" style="left: 247.5px; top: 17.2px; font-size: 16px; line-height: 30px; color: rgb(0, 0, 0); -webkit-text-stroke: 0.2px; letter-spacing: 0.12px;">QR-Scanner</div>
<svg class="abs" style="left:750.5px;top:23.2px" width="12" height="12" viewBox="0 0 12 12"><path d="M.8 .8 L11.2 11.2 M11.2 .8 L.8 11.2" stroke="#000" stroke-width="1.4" fill="none"></path></svg>
<div class="abs" style="left:16px;top:62px;width:753px;height:1px;background:#b4b4b4"></div>

<div class="abs nw" style="left: 15px; top: 77.8px; font-size: 27.5px; line-height: 38px; font-weight: 700; color: rgb(0, 0, 0); -webkit-text-stroke: 0.3px; letter-spacing: 0.23px;">Check-in Monitor</div>

<div class="abs nw" style="left: 16px; top: 137.7px; font-size: 16px; line-height: 22px; font-weight: 700; color: rgb(0, 0, 0); letter-spacing: 0.21px;">Veranstaltung wählen:</div>
<div class="abs" style="left:200px;top:132.2px;width:499.8px;height:31.6px;border:1px solid #c4c4c4;border-radius:4px;background:#fff"></div>
<div class="abs nw" style="left: 214.5px; top: 137.7px; font-size: 16px; line-height: 22px; color: rgb(0, 0, 0); -webkit-text-stroke: 0.2px; letter-spacing: 0.12px;">Die Theaterveranstaltung - On Ice - 11.10.2024 - 01:00</div>
<svg class="abs" style="left:685.6px;top:144.8px" width="9.8" height="6.6" viewBox="0 0 10.4 7"><path d="M1 1.2 L5.2 5.3 L9.4 1.2" fill="none" stroke="#000" stroke-width="2" stroke-linecap="square" stroke-linejoin="miter"></path></svg>

<!-- stat panel -->
<div class="abs" style="left:16px;top:184px;width:753px;height:220.5px;border-radius:10px;background:#f4f4f4"></div>
<div class="abs nw dt" style="left: 153px; letter-spacing: 0.06px; padding-left: 0.06px;">Anwesende Gäste:</div>
<div class="abs nw dt" style="left: 463.7px; letter-spacing: 0.12px; padding-left: 0.12px;">Auslastung gesamt:</div>
<svg class="abs" style="left:171px;top:231px" width="132" height="132" viewBox="-66 -66 132 132">
  <circle r="54" fill="none" stroke="#ebebeb" stroke-width="22"></circle>
  <circle r="54" fill="none" stroke="#dc3545" stroke-width="22" stroke-dasharray="150.8 339.3" transform="rotate(-90)"></circle>
</svg>
<svg class="abs" style="left:481.7px;top:231px" width="132" height="132" viewBox="-66 -66 132 132">
  <circle r="54" fill="none" stroke="#ebebeb" stroke-width="22"></circle>
  <circle r="54" fill="none" stroke="#dc3545" stroke-width="22" stroke-dasharray="28.2 339.3" transform="rotate(-90)"></circle>
</svg>
<div class="abs nw dp" style="left: 153px; letter-spacing: 1.78px; padding-left: 1.78px;">44%</div>
<div class="abs nw dp" style="left: 463.7px; letter-spacing: 1.62px; padding-left: 1.62px;">8%</div>
<div class="abs nw ds" style="left: 153px; letter-spacing: 0.28px; padding-left: 0.28px;">16 / 36</div>
<div class="abs nw ds" style="left: 463.7px; letter-spacing: 0.68px; padding-left: 0.68px;">36 / 433</div>

<!-- table -->
<div class="abs nw th" style="left: 24px; top: 429.2px; letter-spacing: 0.46px;">Zeitstempel</div>
<div class="abs nw th" style="left: 131.5px; top: 429.2px; letter-spacing: 0.47px;">Meldung</div>
<div class="abs nw th" style="left: 549px; top: 418.4px; letter-spacing: 0.5px;">Ge-</div>
<div class="abs nw th" style="left: 549px; top: 440px; letter-spacing: 0.36px;">scannt</div>
<div class="abs nw th" style="left: 614.2px; top: 429.2px; letter-spacing: 0.53px;">Name</div>
<div class="abs" style="left:16px;top:466px;width:753px;height:1px;background:#6e6e6e"></div>
<div class="abs nw td" style="left: 24px; top: 471.8px; letter-spacing: 0.14px;">10.10.2024 -</div>
<div class="abs nw td" style="left: 24px; top: 493.4px; letter-spacing: 0.3px;">19:32</div>
<div class="abs nw td" style="left: 131.5px; top: 482.6px; color: rgb(27, 154, 56); letter-spacing: 0.23px;">Ticket (1x Senioren) gültig und bezahlt.</div>
<div class="abs nw td" style="left: 549px; top: 482.6px; letter-spacing: 0.4px;">6 / 25</div>
<div class="abs nw td" style="left: 614.2px; top: 471.8px; letter-spacing: 0.17px;">Seniorenheim Gruppe</div>
<div class="abs nw td" style="left: 614.2px; top: 493.4px; letter-spacing: -0.04px;">(APD2)</div>
<div class="abs nw td" style="left: 24px; top: 524.6px; letter-spacing: 0.14px;">10.10.2024 -</div>
<div class="abs nw td" style="left: 24px; top: 546.2px; letter-spacing: 0.3px;">19:32</div>
<div class="abs nw td" style="left: 131.5px; top: 535.4px; color: rgb(27, 154, 56); letter-spacing: 0.23px;">Ticket (1x Senioren) gültig und bezahlt.</div>
<div class="abs nw td" style="left: 549px; top: 535.4px; letter-spacing: 0.4px;">5 / 25</div>
<div class="abs nw td" style="left: 614.2px; top: 524.6px; letter-spacing: 0.17px;">Seniorenheim Gruppe</div>
<div class="abs nw td" style="left: 614.2px; top: 546.2px; letter-spacing: -0.04px;">(APD2)</div>
<div class="abs nw td" style="left: 24px; top: 577.4px; letter-spacing: 0.14px;">10.10.2024 -</div>
<div class="abs nw td" style="left: 24px; top: 599px; letter-spacing: 0.3px;">19:32</div>
<div class="abs nw td" style="left: 131.5px; top: 588.2px; color: rgb(27, 154, 56); letter-spacing: 0.23px;">Ticket (1x Senioren) gültig und bezahlt.</div>
<div class="abs nw td" style="left: 549px; top: 588.2px; letter-spacing: 0.4px;">4 / 25</div>
<div class="abs nw td" style="left: 614.2px; top: 577.4px; letter-spacing: 0.17px;">Seniorenheim Gruppe</div>
<div class="abs nw td" style="left: 614.2px; top: 599px; letter-spacing: -0.04px;">(APD2)</div>
<div class="abs nw td" style="left: 24px; top: 630.2px; letter-spacing: 0.14px;">10.10.2024 -</div>
<div class="abs nw td" style="left: 24px; top: 651.8px; letter-spacing: 0.3px;">19:32</div>
<div class="abs nw td" style="left: 131.5px; top: 641px; color: rgb(27, 154, 56); letter-spacing: 0.23px;">Ticket (1x Senioren) gültig und bezahlt.</div>
<div class="abs nw td" style="left: 549px; top: 641px; letter-spacing: 0.4px;">3 / 25</div>
<div class="abs nw td" style="left: 614.2px; top: 630.2px; letter-spacing: 0.17px;">Seniorenheim Gruppe</div>
<div class="abs nw td" style="left: 614.2px; top: 651.8px; letter-spacing: -0.04px;">(APD2)</div>
<div class="abs nw td" style="left: 24px; top: 683px; letter-spacing: 0.14px;">10.10.2024 -</div>
<div class="abs nw td" style="left: 24px; top: 704.6px; letter-spacing: 0.3px;">19:31</div>
<div class="abs nw td" style="left: 131.5px; top: 693.8px; color: rgb(27, 154, 56); letter-spacing: 0.23px;">Ticket (1x Senioren) gültig und bezahlt.</div>
<div class="abs nw td" style="left: 549px; top: 693.8px; letter-spacing: 0.4px;">2 / 25</div>
<div class="abs nw td" style="left: 614.2px; top: 683px; letter-spacing: 0.17px;">Seniorenheim Gruppe</div>
<div class="abs nw td" style="left: 614.2px; top: 704.6px; letter-spacing: -0.04px;">(APD2)</div>
<div class="abs nw td" style="left: 24px; top: 735.8px; letter-spacing: 0.14px;">10.10.2024 -</div>
<div class="abs nw td" style="left: 24px; top: 757.4px; letter-spacing: 0.3px;">19:31</div>
<div class="abs nw td" style="left: 131.5px; top: 746.6px; color: rgb(220, 38, 38); font-weight: 700; letter-spacing: 0.3px;">Ticket bereits gescannt!</div>
<div class="abs nw td" style="left: 549px; top: 746.6px; letter-spacing: 0.4px;">1 / 25</div>
<div class="abs nw td" style="left: 614.2px; top: 735.8px; letter-spacing: 0.17px;">Seniorenheim Gruppe</div>
<div class="abs nw td" style="left: 614.2px; top: 757.4px; letter-spacing: -0.04px;">(APD2)</div>
<div class="abs nw td" style="left: 24px; top: 788.6px; letter-spacing: 0.14px;">10.10.2024 -</div>
<div class="abs nw td" style="left: 24px; top: 810.2px; letter-spacing: 0.3px;">19:31</div>
<div class="abs nw td" style="left: 614.2px; top: 788.6px; letter-spacing: 0.17px;">Seniorenheim Gruppe</div>
<div class="abs nw td" style="left: 614.2px; top: 810.2px; letter-spacing: -0.04px;">(APD2)</div>

<!-- scrollbar -->
<div class="abs" style="left:785px;top:0;width:15px;height:804px;background:#fafafa;border-left:1px solid #e9e9e9"></div>
<div class="abs" style="left:789px;top:3px;width:8px;height:524px;border-radius:4px;background:#c1c1c1"></div>

</div>



</body></html>
